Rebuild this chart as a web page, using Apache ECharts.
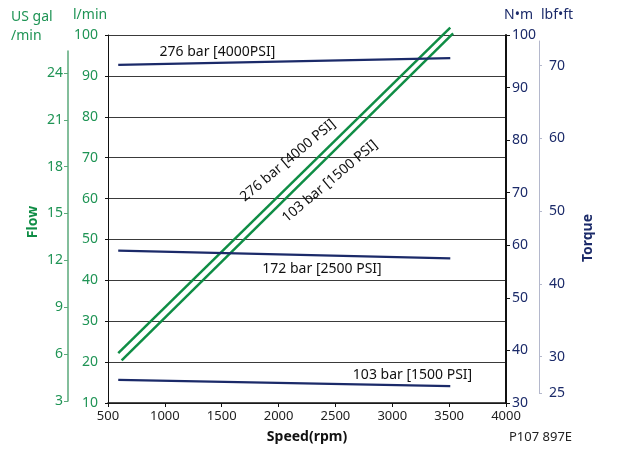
<!DOCTYPE html>
<html>
<head>
<meta charset="utf-8">
<script src="https://cdn.jsdelivr.net/npm/echarts@6/dist/echarts.min.js"></script>
<style>
  html, body { margin: 0; padding: 0; background: #fff; }
  #chart { width: 622px; height: 449px; }
</style>
</head>
<body>
<div id="chart"></div>
<script>
// flow lines, [rpm, l/min]
var flow276 = [[590, 22.2], [3510, 101.8]]
var flow103 = [[620, 20.4], [3535, 100.4]]
// torque lines, [rpm, N·m]
var torque276 = [[590, 94.3], [3510, 95.6]]
var torque172 = [[590, 59.0], [3510, 57.5]]
var torque103 = [[590, 34.4], [3510, 33.2]]

var galTicks = [3, 6, 9, 12, 15, 18, 21, 24]
var lbfTicks = [25, 30, 40, 50, 60, 70]

// line labels, placed on rpm / l/min scale
var notes = [
  { text: '276 bar [4000PSI]', at: [1462, 95.9], rotate: 0 },
  { text: '172 bar [2500 PSI]', at: [2382, 42.7], rotate: 0 },
  { text: '103 bar [1500 PSI]', at: [3178, 16.8], rotate: 0 },
  { text: '276 bar [4000 PSI]', at: [2083, 69.3], rotate: 40 },
  { text: '103 bar [1500 PSI]', at: [2452, 64.2], rotate: 40 }
]

var green = '#0f8d45'
var greenText = '#1f9455'
var navy = '#1b2a69'
var font = 'Noto Sans'

var chart = echarts.init(document.getElementById('chart'))

function flowSeries(name, data) {
  return {
    name: name,
    type: 'line',
    xAxisIndex: 0,
    yAxisIndex: 0,
    data: data,
    symbol: 'none',
    clip: false,
    lineStyle: { color: green, width: 2.5 },
    silent: true
  }
}

function torqueSeries(name, data) {
  return {
    name: name,
    type: 'line',
    xAxisIndex: 0,
    yAxisIndex: 1,
    data: data,
    symbol: 'none',
    lineStyle: { color: navy, width: 2.2 },
    silent: true
  }
}

var option = {
  animation: false,
  textStyle: { fontFamily: font },
  grid: [
    { left: 108, right: 116, top: 35, bottom: 42 },
    { left: 68, width: 1, top: 51, bottom: 48 },
    { left: 539, width: 1, top: 41, bottom: 56 }
  ],
  xAxis: [
    {
      gridIndex: 0,
      type: 'value',
      min: 500,
      max: 4000,
      interval: 500,
      name: 'Speed(rpm)',
      nameLocation: 'middle',
      nameGap: 27,
      nameTextStyle: { color: '#111', fontSize: 14, fontWeight: 'bold', fontFamily: font },
      axisLine: { lineStyle: { color: '#111', width: 1.5 } },
      axisTick: { length: 4, lineStyle: { color: '#111' } },
      axisLabel: { color: '#222', fontSize: 13, margin: 7, formatter: function (v) { return String(v) } },
      splitLine: { show: false }
    },
    { gridIndex: 1, type: 'value', show: false },
    { gridIndex: 2, type: 'value', show: false }
  ],
  yAxis: [
    {
      // l/min
      gridIndex: 0,
      type: 'value',
      position: 'left',
      min: 10,
      max: 100,
      interval: 10,
      axisLine: { show: true, lineStyle: { color: '#111', width: 1 } },
      axisTick: { show: true, length: 3, lineStyle: { color: '#111' } },
      axisLabel: { color: greenText, fontSize: 14, margin: 10 },
      splitLine: { show: true, lineStyle: { color: '#3a3a3a', width: 1 } }
    },
    {
      // N·m
      gridIndex: 0,
      type: 'value',
      position: 'right',
      min: 30,
      max: 100,
      interval: 10,
      axisLine: { show: true, lineStyle: { color: '#111', width: 2 } },
      axisTick: { show: true, length: 4, lineStyle: { color: '#111' } },
      axisLabel: { color: navy, fontSize: 14, margin: 6 },
      splitLine: { show: false }
    },
    {
      // US gal/min
      gridIndex: 1,
      type: 'value',
      position: 'left',
      min: 3,
      max: 25.4,
      axisLine: { show: true, lineStyle: { color: '#5aa97a', width: 1.5 } },
      axisTick: { show: true, length: 4, customValues: galTicks, lineStyle: { color: '#5aa97a' } },
      axisLabel: { color: greenText, fontSize: 14, margin: 5, customValues: galTicks },
      splitLine: { show: false }
    },
    {
      // lbf·ft
      gridIndex: 2,
      type: 'value',
      position: 'right',
      min: 25,
      max: 73.4,
      axisLine: { show: true, lineStyle: { color: '#b4b8cc', width: 1 } },
      axisTick: { show: true, length: 3, customValues: lbfTicks, lineStyle: { color: '#b4b8cc' } },
      axisLabel: { color: navy, fontSize: 14, margin: 9, customValues: lbfTicks },
      splitLine: { show: false }
    }
  ],
  series: [
    flowSeries('276 bar flow', flow276),
    flowSeries('103 bar flow', flow103),
    torqueSeries('276 bar torque', torque276),
    torqueSeries('172 bar torque', torque172),
    torqueSeries('103 bar torque', torque103),
    {
      name: 'notes',
      type: 'scatter',
      xAxisIndex: 0,
      yAxisIndex: 0,
      symbolSize: 0,
      silent: true,
      itemStyle: { opacity: 1 },
      data: notes.map(function (n) {
        return {
          value: n.at,
          label: {
            show: true,
            position: 'inside',
            formatter: n.text,
            rotate: n.rotate,
            color: '#111',
            opacity: 1,
            fontSize: 14,
            fontFamily: font
          }
        }
      })
    }
  ],
  graphic: [
    { type: 'text', left: 11, top: 8, style: { text: 'US gal\n/min', fill: greenText, font: '14px "Noto Sans"', lineHeight: 19 } },
    { type: 'text', left: 73, top: 8, style: { text: 'l/min', fill: greenText, font: '14px "Noto Sans"' } },
    { type: 'text', left: 504, top: 8, style: { text: 'N•m', fill: navy, font: '14px "Noto Sans"' } },
    { type: 'text', left: 541, top: 8, style: { text: 'lbf•ft', fill: navy, font: '14px "Noto Sans"' } },
    {
      type: 'text', x: 33, y: 222, rotation: Math.PI / 2,
      style: { text: 'Flow', fill: green, font: 'bold 14px "Noto Sans"', align: 'center', verticalAlign: 'middle' }
    },
    {
      type: 'text', x: 588, y: 238, rotation: Math.PI / 2,
      style: { text: 'Torque', fill: navy, font: 'bold 14px "Noto Sans"', align: 'center', verticalAlign: 'middle' }
    },
    { type: 'text', left: 509, top: 431, style: { text: 'P107 897E', fill: '#222', font: '13px "Noto Sans"' } }
  ]
}

option && chart.setOption(option)
</script>
</body>
</html>
